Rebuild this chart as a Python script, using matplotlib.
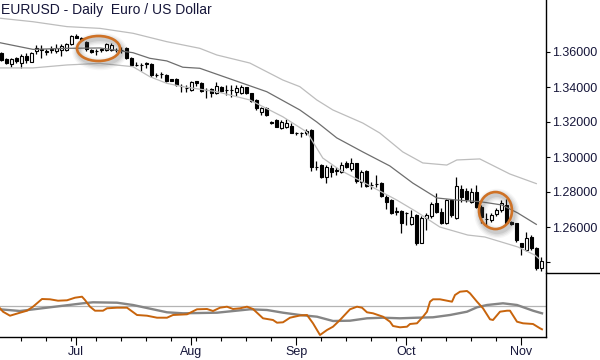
import numpy as np
import pandas as pd
import matplotlib
matplotlib.use('Agg')
import matplotlib.pyplot as plt
from matplotlib.patches import Ellipse
from matplotlib.lines import Line2D
from matplotlib.ticker import FixedLocator, FixedFormatter
import matplotlib.transforms as mtransforms

# ---------------- data ----------------
dates = pd.bdate_range('2014-06-10', '2014-11-07')

opens = [1.3593, 1.3558, 1.3530, 1.3564, 1.3539, 1.3577, 1.3545, 1.3606, 1.3614, 1.3602,
         1.3615, 1.3606, 1.3611, 1.3611, 1.3644, 1.3691, 1.3680, 1.3659, 1.3611, 1.3606,
         1.3610, 1.3611, 1.3611, 1.3611, 1.3611, 1.3621, 1.3567, 1.3526, 1.3526, 1.3535,
         1.3530, 1.3469, 1.3473, 1.3469, 1.3444, 1.3444, 1.3406, 1.3396, 1.3383, 1.3434,
         1.3421, 1.3383, 1.3389, 1.3364, 1.3400, 1.3383, 1.3383, 1.3373, 1.3364, 1.3398,
         1.3364, 1.3326, 1.3259, 1.3279, 1.3202, 1.3212, 1.3164, 1.3173, 1.3177, 1.3136,
         1.3136, 1.3136, 1.3155, 1.2942, 1.2955, 1.2888, 1.2938, 1.2922, 1.2917, 1.2968,
         1.2933, 1.2964, 1.2859, 1.2922, 1.2841, 1.2846, 1.2850, 1.2774, 1.2755, 1.2688,
         1.2694, 1.2679, 1.2617, 1.2669, 1.2511, 1.2650, 1.2664, 1.2736, 1.2688, 1.2622,
         1.2755, 1.2650, 1.2817, 1.2808, 1.2745, 1.2802, 1.2716, 1.2646, 1.2641, 1.2675,
         1.2698, 1.2726, 1.2631, 1.2622, 1.2507, 1.2469, 1.2545, 1.2479, 1.2365]
highs = [1.3602, 1.3567, 1.3567, 1.3573, 1.3587, 1.3593, 1.3602, 1.3640, 1.3640, 1.3615,
         1.3634, 1.3644, 1.3644, 1.3650, 1.3697, 1.3701, 1.3686, 1.3663, 1.3615, 1.3615,
         1.3625, 1.3650, 1.3651, 1.3621, 1.3629, 1.3629, 1.3571, 1.3545, 1.3537, 1.3545,
         1.3537, 1.3480, 1.3486, 1.3474, 1.3446, 1.3451, 1.3416, 1.3412, 1.3434, 1.3437,
         1.3426, 1.3393, 1.3393, 1.3427, 1.3408, 1.3412, 1.3412, 1.3412, 1.3412, 1.3402,
         1.3368, 1.3330, 1.3288, 1.3288, 1.3206, 1.3216, 1.3212, 1.3216, 1.3193, 1.3145,
         1.3145, 1.3159, 1.3159, 1.2979, 1.2960, 1.2955, 1.2955, 1.2945, 1.2974, 1.2979,
         1.2993, 1.2968, 1.2926, 1.2926, 1.2859, 1.2898, 1.2859, 1.2783, 1.2759, 1.2713,
         1.2698, 1.2688, 1.2698, 1.2675, 1.2664, 1.2679, 1.2745, 1.2793, 1.2707, 1.2759,
         1.2759, 1.2888, 1.2840, 1.2823, 1.2823, 1.2840, 1.2726, 1.2679, 1.2679, 1.2709,
         1.2755, 1.2759, 1.2635, 1.2625, 1.2511, 1.2574, 1.2555, 1.2488, 1.2427]
lows = [1.3549, 1.3530, 1.3516, 1.3535, 1.3510, 1.3539, 1.3541, 1.3587, 1.3567, 1.3583,
        1.3593, 1.3596, 1.3579, 1.3606, 1.3640, 1.3678, 1.3663, 1.3606, 1.3596, 1.3583,
        1.3602, 1.3606, 1.3606, 1.3598, 1.3594, 1.3560, 1.3520, 1.3520, 1.3491, 1.3509,
        1.3457, 1.3457, 1.3451, 1.3429, 1.3432, 1.3406, 1.3370, 1.3373, 1.3377, 1.3408,
        1.3372, 1.3336, 1.3345, 1.3358, 1.3372, 1.3354, 1.3345, 1.3349, 1.3360, 1.3360,
        1.3316, 1.3269, 1.3240, 1.3234, 1.3189, 1.3170, 1.3159, 1.3164, 1.3136, 1.3126,
        1.3116, 1.3126, 1.2922, 1.2926, 1.2879, 1.2854, 1.2886, 1.2898, 1.2911, 1.2936,
        1.2922, 1.2850, 1.2831, 1.2831, 1.2816, 1.2831, 1.2774, 1.2702, 1.2675, 1.2669,
        1.2568, 1.2612, 1.2612, 1.2497, 1.2507, 1.2583, 1.2650, 1.2679, 1.2618, 1.2618,
        1.2658, 1.2644, 1.2745, 1.2743, 1.2738, 1.2707, 1.2622, 1.2612, 1.2629, 1.2664,
        1.2688, 1.2622, 1.2612, 1.2517, 1.2441, 1.2465, 1.2469, 1.2355, 1.2346]
closes = [1.3554, 1.3539, 1.3558, 1.3549, 1.3577, 1.3554, 1.3596, 1.3621, 1.3617, 1.3603,
          1.3614, 1.3625, 1.3634, 1.3644, 1.3691, 1.3682, 1.3669, 1.3615, 1.3602, 1.3605,
          1.3615, 1.3644, 1.3640, 1.3610, 1.3610, 1.3567, 1.3526, 1.3524, 1.3525, 1.3534,
          1.3469, 1.3467, 1.3472, 1.3434, 1.3434, 1.3411, 1.3404, 1.3394, 1.3427, 1.3421,
          1.3377, 1.3381, 1.3364, 1.3408, 1.3380, 1.3382, 1.3383, 1.3393, 1.3402, 1.3368,
          1.3322, 1.3280, 1.3280, 1.3240, 1.3193, 1.3173, 1.3202, 1.3196, 1.3139, 1.3135,
          1.3136, 1.3151, 1.2942, 1.2943, 1.2888, 1.2942, 1.2915, 1.2923, 1.2955, 1.2945,
          1.2964, 1.2865, 1.2917, 1.2835, 1.2840, 1.2845, 1.2778, 1.2745, 1.2679, 1.2689,
          1.2625, 1.2679, 1.2659, 1.2507, 1.2650, 1.2669, 1.2731, 1.2688, 1.2622, 1.2755,
          1.2669, 1.2835, 1.2771, 1.2759, 1.2802, 1.2716, 1.2659, 1.2644, 1.2669, 1.2698,
          1.2736, 1.2625, 1.2618, 1.2526, 1.2485, 1.2536, 1.2479, 1.2365, 1.2408]

# channel lines (bar position, price)
mid_pos = [-0.26, 6.34, 13.14, 19.74, 26.34, 29.7, 33.1, 36.3, 39.7, 48.3, 53.1, 59.7,
           63.1, 67.1, 72.3, 77.7, 82.3, 87.1, 91.1, 95.7, 100.1, 103.3, 107.0]
mid_val = [1.3653, 1.3615, 1.3621, 1.3623, 1.3596, 1.3564, 1.3549, 1.3513, 1.3507, 1.3421,
           1.3373, 1.3269, 1.3200, 1.3109, 1.3029, 1.2949, 1.2851, 1.2766, 1.2754, 1.2745,
           1.2726, 1.2680, 1.2615]
up_pos = [-0.26, 6.34, 13.14, 19.74, 26.34, 33.1, 39.7, 43.1, 49.7, 56.3, 59.7, 63.1,
          66.3, 72.3, 75.7, 80.3, 84.3, 89.1, 91.1, 95.7, 101.7, 107.0]
up_val = [1.3793, 1.3773, 1.3745, 1.3735, 1.3707, 1.3659, 1.3621, 1.3583, 1.3537, 1.3440,
          1.3402, 1.3326, 1.3269, 1.3194, 1.3137, 1.3029, 1.2966, 1.2954, 1.2983, 1.2989,
          1.2903, 1.2848]
lo_pos = [-0.26, 6.34, 13.14, 19.74, 26.34, 29.7, 33.1, 36.3, 43.1, 49.7, 56.3, 61.1,
          64.3, 67.7, 72.3, 79.1, 83.1, 87.7, 93.3, 96.7, 103.3, 106.7, 107.5]
lo_val = [1.3509, 1.3509, 1.3526, 1.3535, 1.3516, 1.3459, 1.3421, 1.3402, 1.3373, 1.3326,
          1.3230, 1.3143, 1.2994, 1.2926, 1.2857, 1.2754, 1.2686, 1.2600, 1.2554, 1.2543,
          1.2486, 1.2440, 1.2420]

# lower panel oscillators (bar position, value)
osc_pos = [-0.26, 0.34, 1.74, 3.74, 5.14, 6.34, 8.14, 9.74, 11.34, 13.14, 14.74, 16.14,
           16.74, 17.74, 18.74, 20.34, 21.14, 23.14, 25.14, 27.14, 29.14, 31.14, 33.14,
           34.34, 37.14, 39.14, 41.14, 42.34, 43.74, 45.14, 46.34, 47.74, 49.14, 50.34,
           52.34, 54.34, 55.14, 56.34, 57.74, 59.74, 61.14, 62.34, 63.74, 65.14, 66.34,
           67.74, 69.74, 71.14, 72.14, 73.14, 74.34, 76.34, 77.74, 78.34, 79.74, 81.14,
           81.74, 83.14, 84.34, 85.14, 85.74, 86.34, 87.74, 89.14, 90.14, 90.74, 91.74,
           93.14, 93.74, 95.14, 96.34, 97.74, 98.34, 99.74, 101.14, 101.74, 103.14,
           104.34, 106.34, 107.74, 108.14]
osc_val = [-2.3, -5.7, -9.7, -6.7, -4.7, -0.7, 7.0, 6.7, 5.3, 5.7, 8.3, 9.3,
           6.0, -0.7, -4.7, -4.7, -2.3, -1.7, -1.7, -9.0, -9.7, -11.7, -11.7,
           -9.0, -8.3, -3.3, -3.0, -5.0, -1.7, -0.7, -3.0, -2.3, -0.7, -3.0,
           -12.3, -14.0, -16.7, -16.3, -11.7, -9.5, -9.0, -17.3, -29.0, -24.0, -20.7,
           -14.0, -3.3, -0.7, -1.7, -6.3, -7.3, -10.7, -15.7, -20.0, -21.3, -20.7,
           -18.0, -17.3, -10.7, -5.7, 4.3, 6.7, 6.7, 5.3, 4.3, 11.0, 14.3,
           15.0, 12.7, 4.3, -2.3, -13.3, -14.0, -5.7, -4.7, -4.7, -15.7,
           -17.3, -18.0, -22.3, -23.3]
sig_pos = [-0.26, 3.74, 9.74, 16.34, 18.34, 23.14, 26.34, 33.14, 36.34, 43.14, 49.74,
           53.14, 56.34, 59.74, 63.14, 66.34, 69.74, 73.14, 76.34, 79.74, 83.14, 86.34,
           89.74, 93.14, 95.14, 97.14, 100.34, 103.14, 106.34, 108.14]
sig_val = [-3.3, -5.0, -1.3, 2.7, 3.7, 3.3, 1.0, -6.3, -7.3, -6.7, -3.3,
           -4.0, -6.7, -9.0, -10.7, -15.0, -14.7, -12.3, -11.7, -12.3, -11.7, -11.3,
           -9.0, -5.7, -1.3, 1.0, 2.7, 1.0, -4.7, -7.3]
osc_level = 0.0

price_ticks = [1.24, 1.26, 1.28, 1.30, 1.32, 1.34, 1.36]
price_labels = ['', '1.26000', '1.28000', '1.30000', '1.32000', '1.34000', '1.36000']
title = 'EURUSD - Daily  Euro / US Dollar'

# ---------------- figure ----------------
W, H = 600, 360
fig = plt.figure(figsize=(6, 3.6), dpi=100)
fig.patch.set_facecolor('white')
right = 546 / W
ax1 = fig.add_axes([0, 1 - 272 / H, right, 272 / H])
ax2 = fig.add_axes([0, 1 - 337 / H, right, 65 / H], sharex=ax1)

txt_col = '#16163a'
font = 'Liberation Sans'

x = np.arange(len(dates))
o = np.array(opens); c = np.array(closes)
hi = np.array(highs); lo = np.array(lows)

ax1.vlines(x, lo, hi, color='black', lw=0.9, zorder=2)
bottoms = np.minimum(o, c)
heights = np.abs(c - o)
faces = ['black' if cc < oo else 'white' for oo, cc in zip(o, c)]
ax1.bar(x, heights, bottom=bottoms, width=0.55, color=faces, edgecolor='black',
        linewidth=0.8, zorder=3)

ax1.plot(up_pos, up_val, color='#bdbdbd', lw=0.9, zorder=4)
ax1.plot(lo_pos, lo_val, color='#bdbdbd', lw=0.9, zorder=4)
ax1.plot(mid_pos, mid_val, color='#6e6e6e', lw=0.9, zorder=4)

ax1.set_xlim(-0.26, 108.94)
ax1.set_ylim(1.36 - 220 / 1750, 1.36 + 52 / 1750)

for s in ['top', 'left', 'bottom']:
    ax1.spines[s].set_visible(False)
ax1.spines['right'].set_linewidth(1.0)
ax1.yaxis.tick_right()
ax1.yaxis.set_major_locator(FixedLocator(price_ticks))
ax1.yaxis.set_major_formatter(FixedFormatter(price_labels))
ax1.tick_params(axis='y', direction='out', length=3, width=0.8, pad=1.5,
                labelsize=9, labelcolor=txt_col)
ax1.tick_params(axis='x', which='both', bottom=False, labelbottom=False)
for lab in ax1.get_yticklabels():
    lab.set_fontfamily(font)

# ellipses with soft shadow
ell_col = '#cf7226'
for (cx, cy, ew, eh) in [(19.44, 1.3620, 8.6, 25 / 1750), (98.84, 1.2694, 6.6, 37 / 1750)]:
    sh_tr = mtransforms.offset_copy(ax1.transData, fig=fig, x=1.5, y=-3, units='dots')
    for lw, a in [(9, 0.05), (7, 0.07), (5, 0.09), (3, 0.12)]:
        ax1.add_patch(Ellipse((cx, cy), ew, eh, fill=False, edgecolor='#555555',
                              lw=lw, alpha=a, transform=sh_tr, zorder=5))
    ax1.add_patch(Ellipse((cx, cy), ew, eh, fill=False, edgecolor=ell_col, lw=1.9, zorder=6))

# lower panel
ax2.axhline(osc_level, color='#b4b4b4', lw=0.9, zorder=1)
ax2.plot(sig_pos, sig_val, color='#858585', lw=1.7, zorder=2)
ax2.plot(osc_pos, osc_val, color='#c8640c', lw=1.4, zorder=3)
ax2.set_ylim(-31, 34)
for s in ['top', 'left']:
    ax2.spines[s].set_visible(False)
ax2.spines['right'].set_linewidth(1.0)
ax2.spines['bottom'].set_linewidth(1.0)
ax2.set_yticks([])

month_pos = [i for i in range(1, len(dates)) if dates[i].month != dates[i - 1].month]
month_lab = [dates[i].strftime('%b') for i in month_pos]
week_pos = [i for i in range(len(dates)) if dates[i].weekday() == 0]
ax2.xaxis.set_major_locator(FixedLocator(month_pos))
ax2.xaxis.set_major_formatter(FixedFormatter(month_lab))
ax2.xaxis.set_minor_locator(FixedLocator(week_pos))
ax2.tick_params(axis='x', which='major', direction='out', length=6, width=0.8, pad=0.5,
                labelsize=9, labelcolor=txt_col)
ax2.tick_params(axis='x', which='minor', direction='out', length=3, width=0.8)
for lab in ax2.get_xticklabels():
    lab.set_fontfamily(font)

# separator to the right of the panels
fig.add_artist(Line2D([right, 1], [1 - 272.5 / H, 1 - 272.5 / H], transform=fig.transFigure,
                      color='black', lw=1.0))

fig.text(1 / W, 1 - 10 / H, title, ha='left', va='center', fontsize=10,
         color=txt_col, family=font)

fig.savefig('out.png', dpi=100, facecolor='white')
